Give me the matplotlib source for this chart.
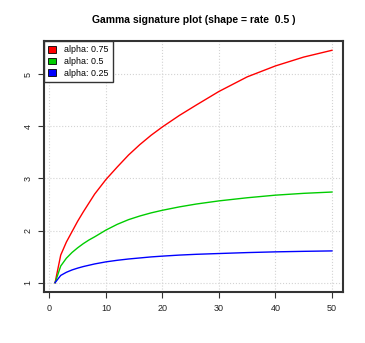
import numpy as np
import matplotlib
matplotlib.use("Agg")
import matplotlib.pyplot as plt
from matplotlib.patches import Patch

x_vals = [1, 2, 3, 4, 5, 6, 7, 8, 10, 12, 14, 16, 18, 20, 23, 26, 30, 35, 40, 45, 50]
red_vals = [1.0, 1.53, 1.78, 1.98, 2.18, 2.36, 2.53, 2.70, 2.98, 3.22, 3.45, 3.65, 3.83, 3.99, 4.21, 4.41, 4.67, 4.95, 5.16, 5.33, 5.46]
green_vals = [1.0, 1.32, 1.47, 1.58, 1.67, 1.75, 1.82, 1.88, 2.01, 2.12, 2.21, 2.28, 2.34, 2.39, 2.455, 2.51, 2.57, 2.63, 2.68, 2.715, 2.74]
blue_vals = [1.0, 1.14, 1.20, 1.245, 1.28, 1.31, 1.335, 1.36, 1.40, 1.43, 1.455, 1.475, 1.495, 1.51, 1.53, 1.545, 1.56, 1.578, 1.592, 1.602, 1.61]
labels = ["alpha: 0.75", "alpha: 0.5", "alpha: 0.25"]
colors = ["#FF0000", "#00CD00", "#0000FF"]
x_ticks = [0, 10, 20, 30, 40, 50]
y_ticks = [1, 2, 3, 4, 5]
title = "Gamma signature plot (shape = rate  0.5 )"

plt.rcParams['font.family'] = ['Liberation Sans', 'DejaVu Sans']

fig = plt.figure(figsize=(3.65, 3.43), dpi=100)
ax = fig.add_axes([44/365, 1-292/343, (343-44)/365, (292-41)/343])

for yv, c in zip([red_vals, green_vals, blue_vals], colors):
    ax.plot(x_vals, yv, color=c, lw=1.0, solid_joinstyle='round')

xmin, xmax = min(x_vals), max(x_vals)
ax.set_xlim(xmin - 0.04*(xmax-xmin), xmax + 0.04*(xmax-xmin))
ymax = max(red_vals); ymin = 1.0
ax.set_ylim(ymin - 0.04*(ymax-ymin), ymax + 0.04*(ymax-ymin))
ax.set_xticks(x_ticks)
ax.set_yticks(y_ticks)
ax.grid(True, color='#D3D3D3', ls=':', lw=0.8)
ax.set_axisbelow(True)
for s in ax.spines.values():
    s.set_linewidth(1.5)
    s.set_color('#333333')
ax.tick_params(length=4.3, width=0.8, color='#333333', labelsize=6.5, pad=4, labelcolor='#222222')
for lab in ax.get_yticklabels():
    lab.set_rotation(90)
    lab.set_va('center')

handles = [Patch(facecolor=c, edgecolor='black', lw=0.6) for c in colors]
leg = ax.legend(handles, labels, loc='upper left', bbox_to_anchor=(0, 1), borderaxespad=0,
                fancybox=False, edgecolor='#333333', framealpha=1, fontsize=6.4,
                handlelength=0.8, handleheight=0.8, handletextpad=1.0, borderpad=0.5,
                labelspacing=0.3)
leg.get_frame().set_linewidth(1.0)

fig.text(193.5/365, 1-20/343, title, ha='center', va='center',
         fontsize=7.5, fontweight='bold')

fig.savefig("out.png", dpi=100)
